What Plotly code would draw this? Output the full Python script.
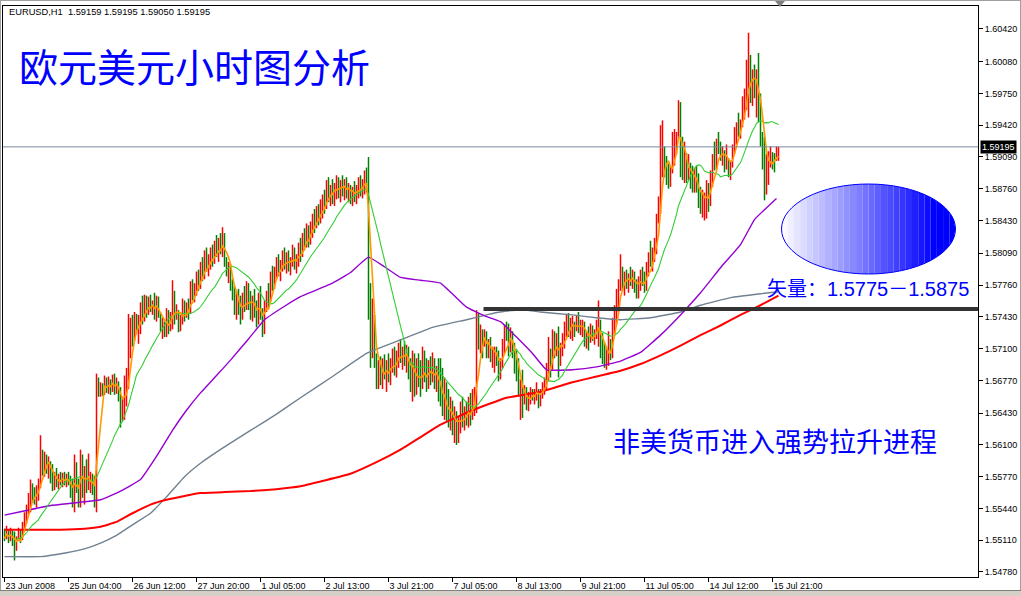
import math
import pandas as pd
import plotly.graph_objects as go

# Hourly EURUSD bars; prices stored as steps of 0.0001 above BASE
BASE = 1.5
OPEN0 = 520

HIGH = [
    523, 526, 522, 524, 521, 520, 515, 524, 522, 530,
    540, 548, 560, 574, 570, 566, 568, 575, 620, 605,
    603, 600, 598, 593, 590, 582, 586, 580, 582, 581,
    582, 580, 582, 578, 575, 600, 592, 575, 605, 600,
    588, 595, 601, 582, 580, 578, 684, 680, 675, 674,
    682, 680, 681, 678, 683, 684, 680, 676, 670, 660,
    682, 690, 746, 742, 745, 748, 746, 745, 758, 765,
    766, 765, 764, 766, 760, 768, 765, 764, 748, 742,
    738, 752, 750, 748, 781, 770, 756, 750, 745, 762,
    760, 758, 762, 780, 782, 778, 790, 792, 800, 805,
    812, 815, 808, 815, 818, 822, 828, 825, 830, 836,
    830, 805, 800, 798, 782, 775, 770, 772, 765, 768,
    775, 780, 778, 770, 765, 772, 760, 768, 775, 752,
    760, 770, 778, 790, 796, 795, 805, 808, 802, 812,
    815, 810, 812, 805, 818, 815, 808, 820, 825, 830,
    835, 840, 838, 842, 850, 855, 858, 860, 865, 870,
    875, 885, 888, 880, 886, 882, 890, 888, 885, 890,
    886, 888, 882, 880, 878, 884, 880, 888, 890, 886,
    895, 898, 909, 778, 762, 745, 705, 698, 702, 700,
    704, 698, 705, 700, 710, 712, 708, 716, 720, 712,
    718, 714, 712, 700, 708, 705, 700, 705, 698, 712,
    708, 700, 698, 702, 706, 700, 692, 700, 700, 690,
    680, 675, 668, 660, 656, 650, 645, 640, 655, 660,
    650, 655, 660, 664, 668, 670, 750, 747, 735, 730,
    730, 728, 720, 722, 712, 712, 712, 708, 700, 720,
    735, 738, 736, 732, 728, 716, 708, 700, 678, 688,
    672, 670, 665, 670, 668, 668, 675, 668, 668, 675,
    680, 695, 722, 710, 730, 728, 726, 733, 716, 726,
    738, 746, 747, 742, 744, 738, 744, 748, 740, 740,
    738, 728, 733, 736, 734, 730, 740, 760, 740, 726,
    716, 712, 728, 720, 742, 755, 772, 782, 808, 795,
    790, 792, 788, 795, 792, 790, 782, 785, 792, 795,
    790, 800, 810, 822, 815, 825, 850, 868, 942, 947,
    920, 910, 902, 900, 935, 938, 935, 968, 966, 930,
    925, 913, 912, 903, 900, 898, 900, 892, 878, 875,
    872, 885, 882, 895, 912, 925, 928, 935, 925, 920,
    916, 922, 908, 905, 922, 940, 945, 955, 948, 972,
    980, 1010, 1038, 1015, 1000, 1005, 1000, 1017, 975, 935,
    930, 912, 915, 920, 914, 913, 920, 919.5,
]

LOW = [
    510, 512, 508, 510, 505, 490, 500, 510, 508, 511,
    520, 528, 538, 540, 550, 548, 545, 552, 565, 578,
    577, 580, 575, 570, 562, 563, 566, 564, 568, 566,
    568, 566, 568, 555, 545, 540, 560, 545, 545, 555,
    548, 560, 563, 560, 558, 545, 540, 660, 660, 661,
    662, 664, 663, 662, 665, 662, 663, 655, 628, 635,
    636, 650, 668, 700, 712, 718, 725, 715, 725, 735,
    738, 742, 745, 748, 745, 740, 738, 742, 728, 720,
    722, 722, 725, 728, 730, 735, 740, 727, 728, 735,
    738, 742, 740, 746, 760, 758, 765, 770, 772, 780,
    782, 790, 785, 792, 795, 798, 805, 800, 808, 805,
    795, 785, 778, 770, 760, 745, 740, 745, 735, 740,
    748, 750, 750, 740, 738, 742, 732, 735, 740, 722,
    725, 748, 752, 758, 770, 772, 782, 785, 780, 790,
    792, 788, 790, 786, 795, 792, 788, 795, 800, 805,
    812, 815, 815, 818, 825, 830, 835, 838, 840, 845,
    850, 855, 862, 858, 860, 858, 865, 866, 862, 868,
    864, 866, 862, 860, 858, 862, 860, 866, 868, 866,
    870, 872, 740, 690, 700, 690, 668, 668, 672, 668,
    678, 665, 675, 672, 685, 682, 680, 690, 695, 688,
    692, 685, 678, 665, 655, 660, 662, 670, 660, 668,
    675, 665, 668, 672, 675, 668, 665, 655, 650, 640,
    636, 635, 628, 625, 620, 612, 610, 612, 622, 628,
    625, 630, 628, 630, 636, 640, 643, 709, 705, 700,
    712, 700, 700, 696, 690, 685, 692, 676, 678, 690,
    705, 718, 702, 706, 700, 684, 676, 660, 636, 638,
    652, 646, 645, 652, 656, 652, 656, 648, 650, 658,
    662, 666, 676, 680, 688, 700, 702, 680, 692, 702,
    710, 722, 722, 720, 718, 722, 728, 726, 724, 722,
    712, 710, 708, 716, 718, 714, 720, 712, 700, 694,
    690, 688, 692, 698, 700, 725, 735, 748, 770, 770,
    765, 772, 768, 775, 772, 768, 762, 762, 770, 775,
    768, 770, 785, 795, 790, 800, 808, 840, 850, 888,
    888, 880, 876, 878, 892, 900, 912, 930, 888, 885,
    882, 882, 885, 876, 872, 872, 872, 856, 850, 846,
    843, 845, 852, 858, 878, 895, 896, 912, 905, 900,
    893, 896, 888, 885, 898, 912, 922, 930, 928, 940,
    948, 958, 950, 965, 962, 970, 950, 945, 920, 896,
    864, 870, 880, 898, 896, 893, 905, 905,
]

CLOSE = [
    513, 521, 512, 519, 509, 497, 512, 521, 513, 528,
    536, 544, 555, 566, 556, 552, 560, 570, 600, 588,
    596, 585, 592, 575, 568, 577, 570, 575, 572, 578,
    571, 576, 570, 560, 552, 590, 566, 560, 598, 570,
    580, 565, 570, 576, 565, 560, 672, 668, 672, 664,
    678, 667, 676, 668, 680, 666, 674, 660, 640, 650,
    676, 685, 712, 735, 720, 740, 730, 738, 752, 742,
    760, 748, 760, 752, 755, 745, 758, 745, 732, 738,
    725, 746, 732, 742, 772, 740, 752, 732, 740, 755,
    745, 754, 748, 775, 766, 772, 785, 776, 795, 785,
    805, 795, 800, 810, 800, 816, 810, 820, 812, 828,
    800, 790, 795, 775, 765, 750, 762, 750, 745, 760,
    755, 772, 756, 748, 760, 748, 740, 762, 745, 730,
    755, 765, 760, 785, 778, 790, 798, 790, 796, 805,
    798, 805, 794, 800, 812, 798, 802, 815, 808, 825,
    820, 835, 822, 838, 845, 838, 852, 845, 860, 862,
    858, 880, 870, 875, 868, 878, 884, 872, 880, 874,
    882, 870, 878, 866, 874, 868, 876, 884, 872, 882,
    890, 878, 748, 700, 742, 696, 676, 690, 676, 694,
    684, 690, 680, 695, 705, 688, 700, 712, 700, 706,
    695, 708, 685, 672, 700, 666, 690, 676, 668, 705,
    682, 675, 690, 678, 700, 672, 684, 662, 655, 648,
    660, 640, 635, 650, 628, 640, 620, 635, 650, 632,
    645, 636, 655, 640, 660, 662, 735, 715, 725, 708,
    726, 705, 716, 700, 706, 708, 696, 682, 696, 715,
    730, 722, 708, 726, 705, 690, 682, 666, 672, 645,
    666, 652, 660, 666, 660, 664, 670, 655, 664, 672,
    676, 690, 716, 690, 722, 712, 720, 698, 712, 720,
    732, 740, 728, 735, 738, 726, 740, 730, 734, 736,
    716, 722, 714, 730, 722, 726, 736, 745, 705, 700,
    696, 706, 722, 704, 736, 750, 765, 775, 790, 775,
    785, 778, 784, 780, 788, 772, 768, 780, 788, 780,
    772, 795, 805, 800, 810, 820, 845, 862, 925, 940,
    895, 885, 880, 895, 928, 930, 932, 960, 895, 890,
    915, 888, 905, 882, 876, 894, 878, 862, 856, 868,
    870, 880, 858, 890, 905, 900, 920, 915, 910, 915,
    898, 915, 894, 900, 918, 935, 940, 936, 944, 965,
    972, 1000, 1010, 975, 990, 978, 992, 955, 930, 905,
    880, 905, 910, 916, 900, 897, 915.9, 919.5,
]

# Slow moving averages (bar index, value in 0.0001 steps above BASE)
MA_RED_BARS = [0, 28, 40, 48, 56, 64, 73, 81, 90, 98, 110, 123, 136, 148, 160, 173,
               186, 198, 208, 218, 234, 251, 268, 284, 296, 308, 318, 328, 338, 348,
               358, 368, 378, 387]
MA_RED_VALS = [522, 522, 523, 525, 530, 539, 548, 553, 557, 560, 561, 562, 564, 567,
               573, 580, 592, 605, 618, 631, 646, 659, 665, 675, 681, 687, 694, 703,
               713, 724, 734, 745, 755, 765]

MA_GRAY_BARS = [0, 18, 31, 40, 48, 56, 64, 73, 81, 90, 98, 110, 123, 136, 148, 164,
                181, 198, 214, 231, 243, 251, 260, 268, 284, 296, 308, 323, 338, 348,
                363, 378, 387]
MA_GRAY_VALS = [494, 494, 498, 502, 508, 516, 527, 539, 556, 577, 591, 608, 625, 642,
                659, 681, 705, 719, 732, 740, 746, 749, 750, 748, 745, 742, 740, 742,
                748, 755, 763, 767, 769]

MA_PURPLE_BARS = [0, 23, 48, 58, 68, 76, 84, 91, 98, 106, 113, 122, 130, 140, 148,
                  164, 173, 182, 190, 198, 208, 218, 231, 240, 248, 256, 264, 271,
                  284, 296, 308, 318, 328, 338, 348, 358, 368, 375, 386]
MA_PURPLE_VALS = [537, 547, 553, 562, 574, 598, 625, 646, 664, 682, 698, 720, 740, 754,
                  764, 778, 789, 805, 795, 784, 781, 778, 753, 744, 738, 722, 705, 688,
                  688, 691, 697, 706, 724, 745, 768, 794, 818, 844, 866]

FAST_PERIOD = 5
MID_PERIOD = 21

TIME_LABEL_BARS = [0, 32, 64, 96, 128, 160, 192, 224, 256, 288, 320, 352, 384]
TIME_LABELS = ["23 Jun 2008", "25 Jun 04:00", "26 Jun 12:00", "27 Jun 20:00",
               "1 Jul 05:00", "2 Jul 13:00", "3 Jul 21:00", "7 Jul 05:00",
               "8 Jul 13:00", "9 Jul 21:00", "11 Jul 05:00", "14 Jul 12:00",
               "15 Jul 21:00"]

PRICE_TICKS = [1.54780, 1.55110, 1.55440, 1.55770, 1.56100, 1.56430, 1.56770,
               1.57100, 1.57430, 1.57760, 1.58090, 1.58430, 1.58760, 1.59090,
               1.59420, 1.59750, 1.60080, 1.60420]

TREND_LEVEL = 1.5751
TREND_START_BAR = 239.5

SYMBOL = "EURUSD,H1"
TITLE = "欧元美元小时图分析"
NOTE = "非美货币进入强势拉升进程"
TARGET = "矢量：1.5775－1.5875"


def price(v):
    return BASE + v / 10000.0


opens = [OPEN0] + CLOSE[:-1]
bars = list(range(len(CLOSE)))
o_p = [price(v) for v in opens]
h_p = [price(v) for v in HIGH]
l_p = [price(v) for v in LOW]
c_p = [price(v) for v in CLOSE]

closes = pd.Series(c_p)
ma_fast = closes.rolling(FAST_PERIOD, min_periods=1).mean()
ma_mid = closes.rolling(MID_PERIOD, min_periods=1).mean()

# plot area in pixels
L, T, R, B = 3, 6, 978, 577
W, H = R - L, B - T
Y_LO, Y_HI = 1.54728, 1.60658
X_LO = -0.75
X_HI = X_LO + W / 2.0


def xp(px):
    return (px - L) / W


def yp(py):
    return (B - py) / H


fig = go.Figure()

fig.add_trace(go.Ohlc(
    x=bars, open=o_p, high=h_p, low=l_p, close=c_p,
    increasing=dict(line=dict(color="#ff0000", width=1.5)),
    decreasing=dict(line=dict(color="#008000", width=1.5)),
    tickwidth=0, hoverinfo="skip", showlegend=False,
))

slow_line = dict(shape="spline", smoothing=0.3)
fig.add_trace(go.Scatter(x=MA_GRAY_BARS, y=[price(v) for v in MA_GRAY_VALS],
                         mode="lines", line=dict(color="#708090", width=1.4, **slow_line),
                         hoverinfo="skip"))
fig.add_trace(go.Scatter(x=MA_PURPLE_BARS, y=[price(v) for v in MA_PURPLE_VALS],
                         mode="lines", line=dict(color="#9400d3", width=1.4, **slow_line),
                         hoverinfo="skip"))
fig.add_trace(go.Scatter(x=MA_RED_BARS, y=[price(v) for v in MA_RED_VALS],
                         mode="lines", line=dict(color="#ff0000", width=2, **slow_line),
                         hoverinfo="skip"))
fig.add_trace(go.Scatter(x=bars, y=ma_mid, mode="lines",
                         line=dict(color="#32cd32", width=1.1), hoverinfo="skip"))
fig.add_trace(go.Scatter(x=bars, y=ma_fast, mode="lines",
                         line=dict(color="#ff9900", width=1.6), hoverinfo="skip"))

shapes = []

# bid line at last close
shapes.append(dict(type="line", xref="paper", yref="y", x0=0, x1=1,
                   y0=c_p[-1], y1=c_p[-1], line=dict(color="#778899", width=1)))

# horizontal trend line
shapes.append(dict(type="line", xref="x", yref="y", x0=TREND_START_BAR, x1=X_HI,
                   y0=TREND_LEVEL, y1=TREND_LEVEL, line=dict(color="#333333", width=4)))

# gradient-filled ellipse, drawn as vertical strips
cx, cy, rx, ry = 868.5, 229.0, 87.0, 45.0
n_strips = 28
for k in range(n_strips):
    a = cx - rx + 2 * rx * k / n_strips
    b = cx - rx + 2 * rx * (k + 1) / n_strips
    pts_x = [a + (b - a) * j / 4 for j in range(5)]
    top, bot = [], []
    for px_ in pts_x:
        u = max(-1.0, min(1.0, (px_ - cx) / rx))
        dy = ry * math.sqrt(max(0.0, 1 - u * u))
        top.append((px_, cy - dy))
        bot.append((px_, cy + dy))
    ring = top + bot[::-1]
    path = "M " + " L ".join(f"{xp(x_):.5f},{yp(y_):.5f}" for x_, y_ in ring) + " Z"
    t = min(1.0, (k + 0.5) / (n_strips * 0.88))
    g = int(round(255 * (1 - t)))
    shapes.append(dict(type="path", xref="paper", yref="paper", path=path,
                       fillcolor=f"rgb({g},{g},255)", line=dict(width=0), layer="above"))
shapes.append(dict(type="circle", xref="paper", yref="paper",
                   x0=xp(cx - rx), x1=xp(cx + rx), y0=yp(cy + ry), y1=yp(cy - ry),
                   line=dict(color="#0000ff", width=1), fillcolor="rgba(0,0,0,0)"))

# chart shift marker on the top edge
shapes.append(dict(type="path", xref="paper", yref="paper",
                   path=f"M {xp(775):.5f},{yp(1):.5f} L {xp(785):.5f},{yp(1):.5f} L {xp(780):.5f},{yp(7):.5f} Z",
                   fillcolor="#808080", line=dict(width=0)))

# window edges
shapes.append(dict(type="rect", xref="paper", yref="paper",
                   x0=xp(0), x1=xp(1021), y0=yp(596), y1=yp(590),
                   fillcolor="#d4d0c8", line=dict(width=0)))
shapes.append(dict(type="line", xref="paper", yref="paper",
                   x0=xp(0), x1=xp(1021), y0=yp(590.5), y1=yp(590.5),
                   line=dict(color="#808080", width=1)))
shapes.append(dict(type="line", xref="paper", yref="paper",
                   x0=xp(0), x1=xp(1021), y0=yp(0.5), y1=yp(0.5),
                   line=dict(color="#a0a0a0", width=1)))
shapes.append(dict(type="line", xref="paper", yref="paper",
                   x0=xp(0.5), x1=xp(0.5), y0=yp(0), y1=yp(590),
                   line=dict(color="#a0a0a0", width=1)))
shapes.append(dict(type="line", xref="paper", yref="paper",
                   x0=xp(1020.5), x1=xp(1020.5), y0=yp(0), y1=yp(590),
                   line=dict(color="#a0a0a0", width=1)))

header = "{}\u00a0\u00a0{:.5f} {:.5f} {:.5f} {:.5f}".format(
    SYMBOL, o_p[-1], h_p[-1], l_p[-1], c_p[-1])

annotations = [
    dict(text=header, xref="paper", yref="paper", x=xp(7), y=yp(12),
         xanchor="left", yanchor="middle", showarrow=False,
         font=dict(family="Liberation Sans, Arial", size=9.3, color="#000000")),
    dict(text=TITLE, xref="paper", yref="paper", x=xp(17), y=yp(65),
         xanchor="left", yanchor="middle", showarrow=False,
         font=dict(family="Noto Sans CJK SC", size=39, color="#0000ff")),
    dict(text=NOTE, xref="paper", yref="paper", x=xp(611), y=yp(441),
         xanchor="left", yanchor="middle", showarrow=False,
         font=dict(family="Noto Sans CJK SC", size=27, color="#0000ff")),
    dict(text=TARGET, xref="paper", yref="paper", x=xp(765), y=yp(289),
         xanchor="left", yanchor="middle", showarrow=False,
         font=dict(family="Liberation Sans, Noto Sans CJK SC", size=20, color="#0000ff")),
    dict(text=f"{c_p[-1]:.5f}", xref="paper", yref="y", x=xp(980), y=c_p[-1],
         xanchor="left", yanchor="middle", showarrow=False, bgcolor="#000000",
         borderpad=1,
         font=dict(family="Liberation Sans, Arial", size=9, color="#ffffff")),
]

fig.update_layout(
    width=1021, height=596,
    margin=dict(l=L, r=1021 - R, t=T, b=596 - B, autoexpand=False),
    paper_bgcolor="#ffffff", plot_bgcolor="#ffffff",
    showlegend=False,
    shapes=shapes, annotations=annotations,
    xaxis=dict(range=[X_LO, X_HI], showgrid=False, zeroline=False,
               showline=True, mirror=True, linecolor="#000000", linewidth=1,
               ticks="outside", ticklen=4, tickcolor="#000000",
               tickvals=TIME_LABEL_BARS, ticktext=TIME_LABELS,
               ticklabelposition="outside right",
               tickfont=dict(family="Liberation Sans, Arial", size=9, color="#000000"),
               rangeslider=dict(visible=False), fixedrange=True),
    yaxis=dict(range=[Y_LO, Y_HI], side="right", showgrid=False, zeroline=False,
               showline=True, mirror=True, linecolor="#000000", linewidth=1,
               ticks="outside", ticklen=4, tickcolor="#000000",
               tickvals=PRICE_TICKS, ticktext=[f"{v:.5f}" for v in PRICE_TICKS],
               tickfont=dict(family="Liberation Sans, Arial", size=9, color="#000000"),
               fixedrange=True),
)

fig.write_html("out.html", config={"displayModeBar": False, "staticPlot": True},
               post_script="document.body.style.margin='0';document.body.style.overflow='hidden';")
